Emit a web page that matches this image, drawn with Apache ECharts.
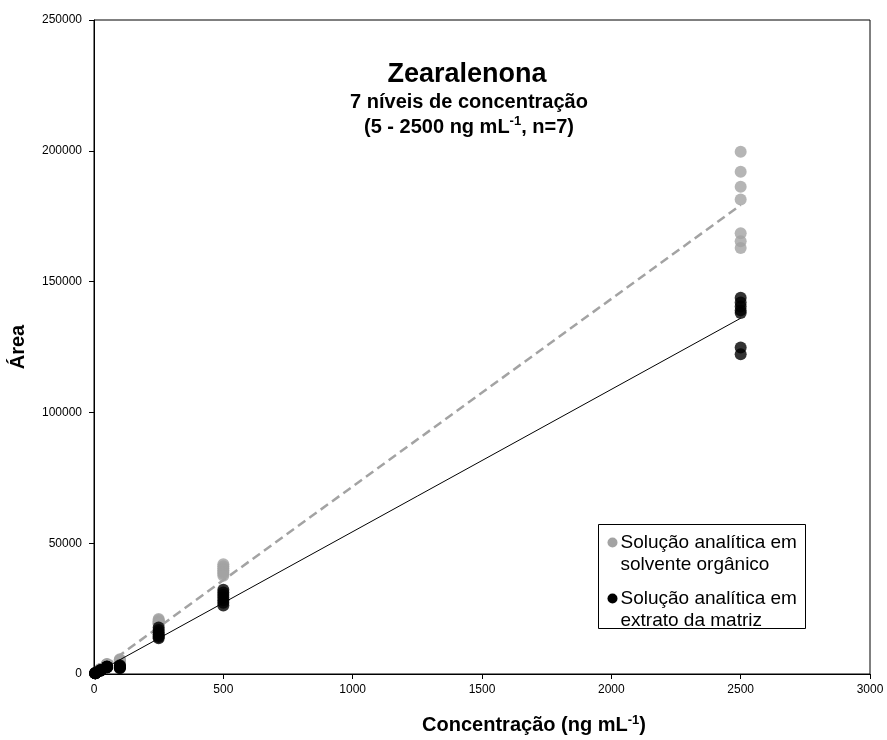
<!DOCTYPE html>
<html>
<head>
<meta charset="utf-8">
<script src="https://cdn.jsdelivr.net/npm/echarts@6/dist/echarts.min.js"></script>
<style>
  html, body { margin: 0; padding: 0; background: #fff; }
  #chart { width: 887px; height: 740px; }
</style>
</head>
<body>
<div id="chart"></div>
<script>
// Concentration levels (ng/mL), seven replicate injections per level
const levels = [5, 25, 50, 100, 250, 500, 2500];

// Peak area – standards in organic solvent
const areaSolvente = [
  [300, 350, 400, 420, 380, 360, 330],
  [1700, 1800, 1900, 1750, 1850, 1650, 1950],
  [3300, 3500, 3700, 3600, 3400, 3800, 3550],
  [4200, 4500, 4800, 5000, 5200, 5400, 5600],
  [21000, 20600, 20200, 19900, 19600, 19300, 19000],
  [42000, 41200, 40400, 39700, 39000, 38300, 37600],
  [199600, 192000, 186300, 181400, 168500, 165400, 162800]
];

// Peak area – standards in matrix extract
const areaMatriz = [
  [250, 280, 300, 320, 270, 290, 260],
  [1300, 1400, 1350, 1450, 1250, 1380, 1420],
  [2600, 2800, 2700, 2900, 2500, 2750, 2650],
  [2200, 2500, 2700, 2900, 3100, 3300, 2400],
  [17800, 16800, 16000, 15200, 14600, 14100, 13700],
  [32200, 31200, 30200, 29200, 28200, 27200, 26200],
  [143800, 142000, 140500, 139000, 138000, 124800, 122200]
];

// Calibration lines: [slope, intercept]
const fitSolvente = [71.7, 0];
const fitMatriz = [54.4, 0];
const fitRange = [0, 2500];

const xTicks = [0, 500, 1000, 1500, 2000, 2500, 3000];
const yTicks = [0, 50000, 100000, 150000, 200000, 250000];

const serieNames = ['Solução analítica em\nsolvente orgânico', 'Solução analítica em\nextrato da matriz'];

function toPoints(areas) {
  const pts = [];
  levels.forEach((c, i) => areas[i].forEach(a => pts.push([c, a])));
  return pts;
}
function fitLine(f) {
  return fitRange.map(x => [x, f[0] * x + f[1]]);
}

const FONT = '"Liberation Sans", Arial, sans-serif';
const GRAY = '#a3a3a3';

const chart = echarts.init(document.getElementById('chart'), null, { renderer: 'canvas' });

chart.setOption({
  animation: false,
  backgroundColor: '#fff',
  grid: {
    left: 92, right: 17, top: 20, bottom: 61,
    show: true, borderColor: '#000', borderWidth: 1
  },
  xAxis: {
    type: 'value',
    min: xTicks[0], max: xTicks[xTicks.length - 1], interval: 500,
    name: 'Concentração (ng mL{sup|-1})',
    nameLocation: 'middle',
    nameGap: 40,
    nameTextStyle: {
      fontFamily: FONT, fontWeight: 'bold', fontSize: 20, color: '#000',
      padding: [0, 0, 0, 104],
      rich: { sup: { fontFamily: FONT, fontWeight: 'bold', fontSize: 13, verticalAlign: 'top', padding: [0, 0, 9, 0], color: '#000' } }
    },
    axisLine: { show: true, lineStyle: { color: '#000', width: 1 } },
    axisTick: { show: true, inside: false, length: 5, lineStyle: { color: '#000' } },
    axisLabel: {
      margin: 10, fontFamily: FONT, fontSize: 12, color: '#000',
      formatter: v => xTicks.includes(v) ? String(v) : ''
    },
    splitLine: { show: false }
  },
  yAxis: {
    type: 'value',
    min: yTicks[0], max: yTicks[yTicks.length - 1], interval: 50000,
    name: 'Área',
    nameLocation: 'middle',
    nameGap: 66,
    nameRotate: 90,
    nameTextStyle: { fontFamily: FONT, fontWeight: 'bold', fontSize: 20, color: '#000' },
    axisLine: { show: true, lineStyle: { color: '#000', width: 1 } },
    axisTick: { show: true, inside: false, length: 5, lineStyle: { color: '#000' } },
    axisLabel: {
      margin: 12, fontFamily: FONT, fontSize: 12, color: '#000',
      formatter: v => yTicks.includes(v) ? String(v) : ''
    },
    splitLine: { show: false }
  },
  title: [{
    text: 'Zearalenona',
    left: 462, top: 56, textAlign: 'center',
    textStyle: { fontFamily: FONT, fontWeight: 'bold', fontSize: 27, color: '#000' }
  }, {
    text: '7 níveis de concentração\n(5 - 2500 ng mL{sup|-1}, n=7)',
    left: 464, top: 85, textAlign: 'center',
    textStyle: {
      fontFamily: FONT, fontWeight: 'bold', fontSize: 20, lineHeight: 25, color: '#000',
      rich: { sup: { fontFamily: FONT, fontWeight: 'bold', fontSize: 13, lineHeight: 25, verticalAlign: 'top', padding: [0, 0, 8, 0], color: '#000' } }
    }
  }],
  series: [{
    name: serieNames[0],
    type: 'scatter',
    data: toPoints(areaSolvente),
    symbol: 'circle', symbolSize: 12,
    itemStyle: { color: GRAY },
    z: 2
  }, {
    type: 'line',
    data: fitLine(fitSolvente),
    symbol: 'none',
    lineStyle: { color: GRAY, width: 2.5, type: [9, 5] },
    z: 3
  }, {
    name: serieNames[1],
    type: 'scatter',
    data: toPoints(areaMatriz),
    symbol: 'circle', symbolSize: 12,
    itemStyle: { color: '#000' },
    z: 4
  }, {
    type: 'line',
    data: fitLine(fitMatriz),
    symbol: 'none',
    lineStyle: { color: '#000', width: 1 },
    z: 5
  }],
  graphic: [{
    type: 'group',
    left: 598, top: 524,
    children: [{
      type: 'rect',
      shape: { x: 0, y: 0, width: 207, height: 104 },
      style: { fill: '#fff', stroke: '#000', lineWidth: 1 }
    }, {
      type: 'circle',
      shape: { cx: 14, cy: 18, r: 5 },
      style: { fill: GRAY }
    }, {
      type: 'text',
      x: 22, y: 7,
      style: { text: serieNames[0], font: '19px ' + FONT, lineHeight: 22, fill: '#000' }
    }, {
      type: 'circle',
      shape: { cx: 14, cy: 74, r: 5 },
      style: { fill: '#000' }
    }, {
      type: 'text',
      x: 22, y: 63,
      style: { text: serieNames[1], font: '19px ' + FONT, lineHeight: 22, fill: '#000' }
    }]
  }]
});
</script>
</body>
</html>
